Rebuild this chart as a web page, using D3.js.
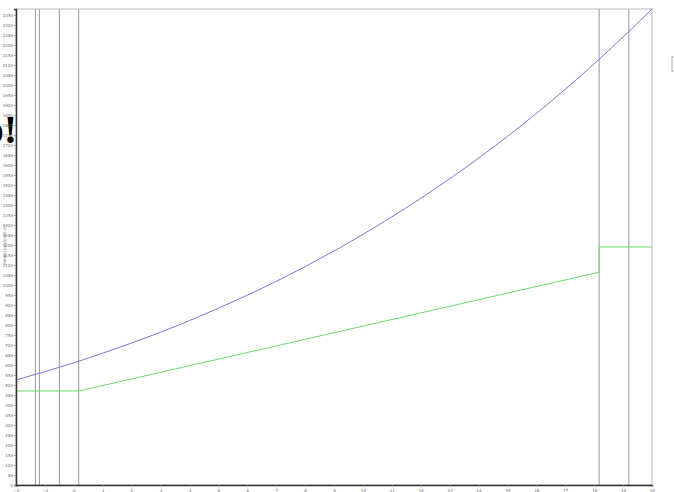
<!DOCTYPE html>
<html><head><meta charset="utf-8">
<script src="https://cdn.jsdelivr.net/npm/d3@7"></script>
<style>html,body{margin:0;padding:0;background:#fff;overflow:hidden}</style>
</head><body>
<svg id="c" width="674" height="492"></svg>
<script>
const xTicks = d3.range(-2, 21, 1);
const yTicks = d3.range(0, 2351, 50);
const blueX = [-2,-1,0,1,2,3,4,5,6,7,8,9,10,11,12,13,14,15,16,17,18,19,20];
const blueY = [525,567,611,659,710,764,822,884,949,1018,1092,1170,1253,1341,1433,1531,1634,1743,1858,1979,2106,2240,2380];
const greenX = [-2, 0.17, 18.17, 18.17, 20];
const greenY = [470, 470, 1064, 1190, 1190];
const vLines = [-1.33, -1.19, -0.5, 0.17, 18.17, 19.2];
const yLabel = "Annual payment (£)";
const bigText = "ó!";

const svg = d3.select("#c");
const L = 16, R = 652, T = 9, B = 485;
const x = d3.scaleLinear().domain([-2, 20]).range([L, R]);
const y = d3.scaleLinear().domain([0, 2380]).range([B, T]);

svg.append("text").attr("x", 17).attr("y", 143).attr("text-anchor", "end")
  .attr("font-family", "Liberation Serif, serif").attr("font-weight", "bold")
  .attr("font-size", 40).attr("fill", "#000").text(bigText);

// frame
svg.append("rect").attr("x", L).attr("y", T).attr("width", R - L).attr("height", B - T)
  .attr("fill", "none").attr("stroke", "#bbb").attr("stroke-width", 1);

// vertical lines
svg.append("g").selectAll("line").data(vLines).join("line")
  .attr("x1", d => x(d)).attr("x2", d => x(d)).attr("y1", T).attr("y2", B)
  .attr("stroke", "#999").attr("stroke-width", 1);

const line = d3.line().x(d => x(d[0])).y(d => y(d[1]));
svg.append("path").datum(blueX.map((v, i) => [v, blueY[i]]))
  .attr("d", line.curve(d3.curveMonotoneX)).attr("fill", "none")
  .attr("stroke", "#7878d8").attr("stroke-width", 1);
svg.append("path").datum(greenX.map((v, i) => [v, greenY[i]]))
  .attr("d", d3.line().x(d => x(d[0])).y(d => y(d[1]))).attr("fill", "none")
  .attr("stroke", "#6fdc6f").attr("stroke-width", 1);

// axes
const ax = svg.append("g").attr("transform", `translate(0,${B})`)
  .call(d3.axisBottom(x).tickValues(xTicks).tickSize(2).tickFormat(d3.format("d")));
const ay = svg.append("g").attr("transform", `translate(${L},0)`)
  .call(d3.axisLeft(y).tickValues(yTicks).tickSize(2).tickFormat(d3.format("d")));
[ax, ay].forEach(g => {
  g.select(".domain").attr("stroke", "#333").attr("stroke-width", 1.5);
  g.selectAll(".tick line").attr("stroke", "#999");
  g.selectAll("text").attr("font-size", 4).attr("fill", "#666")
    .attr("font-family", "DejaVu Sans, sans-serif");
});
ax.selectAll("text").attr("dy", "0.5em");
ay.selectAll("text").attr("x", -3);

svg.append("text").attr("transform", "translate(6,245) rotate(-90)")
  .attr("text-anchor", "middle").attr("font-size", 4).attr("fill", "#777")
  .attr("font-family", "DejaVu Sans, sans-serif").text(yLabel);

// legend box (partially off-canvas)
svg.append("rect").attr("x", 672).attr("y", 57).attr("width", 10).attr("height", 14)
  .attr("fill", "#fff").attr("stroke", "#aaa").attr("stroke-width", 1);
</script>
</body></html>
